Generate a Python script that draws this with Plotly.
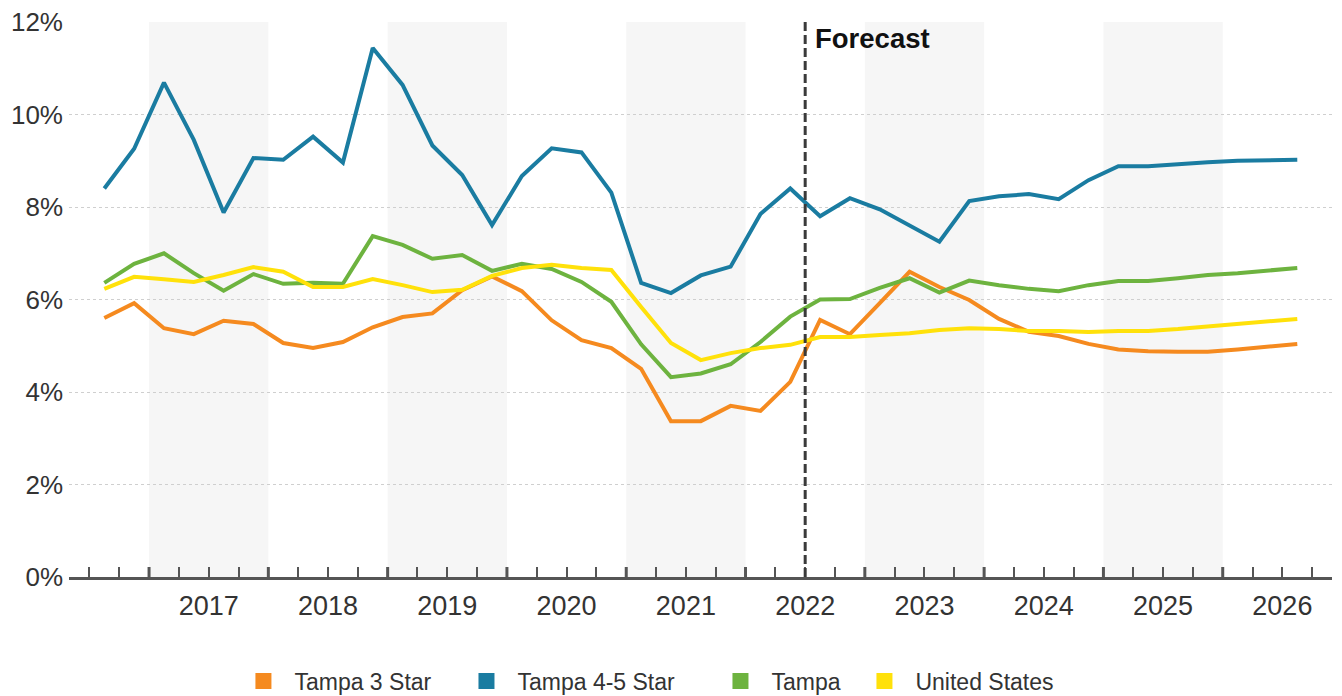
import plotly.graph_objects as go

# Quarterly periods: 2016 Q3 .. 2026 Q3
start_year, start_q = 2016, 3
n_points = 41
quarters = []
y, q = start_year, start_q
for _ in range(n_points):
    quarters.append(y + (q - 0.5) / 4.0)
    q += 1
    if q > 4:
        q = 1
        y += 1

series_names = ["Tampa 3 Star", "Tampa 4-5 Star", "Tampa", "United States"]
series_colors = ["#F58A1F", "#1A7CA1", "#6DB33F", "#FFE10A"]

tampa_3_star = [5.60, 5.92, 5.38, 5.25, 5.54, 5.47, 5.06, 4.95, 5.08, 5.40,
                5.62, 5.70, 6.20, 6.50, 6.18, 5.55, 5.12, 4.95, 4.50, 3.37,
                3.37, 3.70, 3.59, 4.22, 5.56, 5.25, 5.92, 6.60, 6.27, 5.99,
                5.58, 5.30, 5.21, 5.04, 4.92, 4.88, 4.87, 4.87, 4.92, 4.97,
                5.04]
tampa_4_5_star = [8.40, 9.26, 10.69, 9.45, 7.88, 9.06, 9.02, 9.52, 8.96, 11.44,
                  10.64, 9.33, 8.69, 7.61, 8.67, 9.27, 9.18, 8.31, 6.36, 6.14,
                  6.52, 6.71, 7.85, 8.40, 7.80, 8.19, 7.95, 7.61, 7.25, 8.13,
                  8.23, 8.28, 8.17, 8.58, 8.88, 8.88, 8.93, 8.97, 9.00, 9.02,
                  9.02]
tampa = [6.36, 6.77, 7.00, 6.57, 6.19, 6.55, 6.34, 6.36, 6.34, 7.37,
         7.18, 6.88, 6.96, 6.62, 6.77, 6.66, 6.38, 5.95, 5.03, 4.32,
         4.40, 4.60, 5.08, 5.63, 6.00, 6.01, 6.25, 6.46, 6.15, 6.41,
         6.31, 6.23, 6.18, 6.31, 6.40, 6.40, 6.46, 6.53, 6.57, 6.62,
         6.68]
united_states = [6.23, 6.49, 6.44, 6.38, 6.53, 6.70, 6.60, 6.27, 6.27, 6.44,
                 6.31, 6.16, 6.21, 6.51, 6.68, 6.75, 6.68, 6.64, 5.84, 5.06,
                 4.69, 4.84, 4.95, 5.02, 5.19, 5.19, 5.23, 5.27, 5.34, 5.38,
                 5.36, 5.32, 5.32, 5.30, 5.32, 5.32, 5.36, 5.41, 5.47, 5.51,
                 5.58]

year_labels = [2017, 2018, 2019, 2020, 2021, 2022, 2023, 2024, 2025, 2026]
shaded_years = [2017, 2019, 2021, 2023, 2025]
year_boundaries = [2017, 2018, 2019, 2020, 2021, 2022, 2023, 2024, 2025, 2026]
forecast_x = 2022.5
y_ticks = [0, 2, 4, 6, 8, 10, 12]

x_range = [2016.329, 2026.916]

# legend entry positions (paper x of each legend box)
legend_x = [0.1294, 0.3060, 0.5071, 0.6211]

fig = go.Figure()

all_values = [tampa_3_star, tampa_4_5_star, tampa, united_states]
for name, color, vals in zip(series_names, series_colors, all_values):
    fig.add_trace(go.Scatter(
        x=quarters, y=vals, mode="lines", name=name,
        line=dict(color=color, width=4), showlegend=False,
        hovertemplate="%{y:.2f}%<extra>" + name + "</extra>",
    ))
# legend proxies (square swatches), each in its own legend box
legend_ids = ["legend", "legend2", "legend3", "legend4"]
for name, color, lid in zip(series_names, series_colors, legend_ids):
    fig.add_trace(go.Scatter(
        x=[None], y=[None], mode="markers", name=name, legend=lid,
        marker=dict(symbol="square", size=16, color=color),
    ))

# quarter ticks (minor, inside) with year labels at mid-year
q_vals, q_text = [], []
for yr in range(2016, 2027):
    for frac in (0.25, 0.5, 0.75):
        v = yr + frac
        if x_range[0] <= v <= x_range[1]:
            q_vals.append(v)
            q_text.append(str(yr) if (frac == 0.5 and yr in year_labels) else "")

shapes = []
for yr in shaded_years:
    shapes.append(dict(type="rect", xref="x", yref="y", x0=yr, x1=yr + 1,
                       y0=0, y1=12, fillcolor="#F6F6F6", line=dict(width=0),
                       layer="below"))
for yb in year_boundaries:
    shapes.append(dict(type="line", xref="x", yref="y", x0=yb, x1=yb,
                       ysizemode="pixel", yanchor=0, y0=-11, y1=10,
                       line=dict(color="#555555", width=3)))
shapes.append(dict(type="line", xref="x", yref="y", x0=forecast_x, x1=forecast_x,
                   y0=0, y1=12, line=dict(color="#3A3A3A", width=3, dash="9px,4px")))

legend_common = dict(
    orientation="h", yref="container", yanchor="middle", y=0.0218, xanchor="left",
    font=dict(size=23, color="#333333"), bgcolor="rgba(0,0,0,0)",
    itemwidth=52,
)

fig.update_layout(
    width=1334, height=688,
    margin=dict(l=61, r=10, t=14, b=119),
    paper_bgcolor="white", plot_bgcolor="white",
    font=dict(family="Liberation Sans, Arial, sans-serif", color="#333333"),
    xaxis=dict(
        range=x_range, tickmode="array", tickvals=q_vals, ticktext=q_text,
        ticks="inside", ticklen=10, tickwidth=1.5, tickcolor="#555555",
        showline=True, linecolor="#555555", linewidth=2.5,
        showgrid=False, zeroline=False, automargin=False,
        tickfont=dict(size=27, color="#333333"),
        ticklabelstandoff=3, ticklabeloverflow="allow",
    ),
    yaxis=dict(
        range=[0, 12], tickmode="array", tickvals=y_ticks,
        ticktext=[f"{v}%" for v in y_ticks],
        showgrid=True, gridcolor="#CFCFCF", gridwidth=1, griddash="dot",
        zeroline=False, showline=False, ticks="", automargin=False,
        tickfont=dict(size=26, color="#333333"),
        ticklabelstandoff=5, ticklabeloverflow="allow",
    ),
    shapes=shapes,
    annotations=[dict(
        x=forecast_x, y=11.65, xref="x", yref="y", text="<b>Forecast</b>",
        showarrow=False, xanchor="left", yanchor="middle", xshift=8,
        font=dict(size=27.5, color="#111111"),
    )],
    legend=dict(x=legend_x[0], **legend_common),
    legend2=dict(x=legend_x[1], **legend_common),
    legend3=dict(x=legend_x[2], **legend_common),
    legend4=dict(x=legend_x[3], **legend_common),
    showlegend=True,
)

fig.write_html("out.html")
